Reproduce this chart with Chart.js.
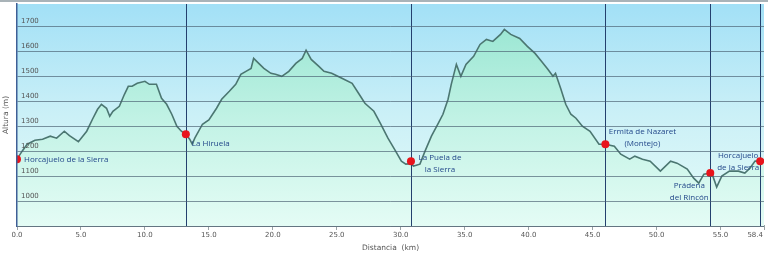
<!DOCTYPE html>
<html>
<head>
<meta charset="utf-8">
<script src="https://cdn.jsdelivr.net/npm/chart.js@4.4.1/dist/chart.umd.min.js"></script>
<style>
  html, body { margin: 0; padding: 0; background: #fff; }
  #wrap { width: 768px; height: 257px; }
</style>
</head>
<body>
<div id="wrap"><canvas id="perfil"></canvas></div>
<script>
let distKm = [0.0, 0.4, 0.8, 1.4, 2.0, 2.6, 3.1, 3.7, 4.1, 4.8, 5.45, 5.9, 6.3, 6.6, 7.0, 7.25, 7.5, 8.0, 8.4, 8.7,
  9.0, 9.4, 10.0, 10.35, 10.9, 11.3, 11.7, 12.1, 12.5, 12.85, 13.2, 13.5, 13.7, 13.9, 14.5, 15.0, 15.6, 16.0, 16.6, 17.1,
  17.5, 17.9, 18.3, 18.5, 18.9, 19.3, 19.85, 20.2, 20.7, 21.25, 21.8, 22.3, 22.6, 23.0, 23.6, 24.0, 24.6, 25.4, 26.2, 26.7,
  27.2, 27.9, 28.4, 29.0, 29.6, 30.05, 30.4, 30.8, 31.0, 31.5, 31.9, 32.4, 32.9, 33.3, 33.7, 33.95, 34.35, 34.7, 35.1, 35.7,
  36.2, 36.7, 37.2, 37.8, 38.1, 38.6, 39.3, 39.9, 40.5, 41.0, 41.5, 41.9, 42.1, 42.5, 42.9, 43.3, 43.7, 44.2, 44.8, 45.5,
  46.0, 46.7, 47.2, 47.9, 48.3, 48.9, 49.5, 50.3, 51.1, 51.6, 52.4, 52.9, 53.3, 53.7, 54.2, 54.35, 54.7, 55.1, 55.7, 56.4,
  56.9, 57.3, 57.7, 58.1, 58.4]
let altitudeM = [1168, 1200, 1228, 1244, 1248, 1260, 1252, 1280, 1262, 1238, 1280, 1328, 1368, 1388, 1372, 1340, 1360, 1380, 1428, 1460,
  1460, 1472, 1480, 1468, 1468, 1412, 1388, 1348, 1300, 1280, 1268, 1248, 1228, 1252, 1308, 1325, 1372, 1408, 1440, 1468,
  1508, 1520, 1532, 1572, 1552, 1532, 1512, 1508, 1500, 1520, 1552, 1572, 1605, 1568, 1540, 1520, 1512, 1492, 1472, 1432,
  1392, 1360, 1312, 1252, 1200, 1160, 1148, 1150, 1140, 1148, 1200, 1260, 1308, 1348, 1408, 1468, 1548, 1500, 1548, 1580,
  1628, 1648, 1640, 1668, 1688, 1668, 1652, 1620, 1592, 1560, 1528, 1500, 1512, 1452, 1388, 1348, 1332, 1300, 1280, 1228,
  1228, 1220, 1188, 1168, 1180, 1168, 1160, 1120, 1160, 1152, 1128, 1092, 1072, 1108, 1112, 1108, 1056, 1100, 1120, 1120,
  1112, 1132, 1160, 1160, 1165]

// puntos de paso
let stopNames = [["Horcajuelo de la Sierra"], ["La Hiruela"], ["La Puela de", "la Sierra"],
  ["Ermita de Nazaret", "(Montejo)"], ["Prádena", "del Rincón"], ["Horcajuelo", "de la Sierra"]]
let stopKm = [0.0, 13.2, 30.8, 46.0, 54.2, 58.1]
let stopAlt = [1168, 1268, 1160, 1228, 1112, 1160]

let xTicks = [0, 5, 10, 15, 20, 25, 30, 35, 40, 45, 50, 55, 58.4]
let yTicks = [1000, 1100, 1200, 1300, 1400, 1500, 1600, 1700]

// desplazamiento de cada etiqueta respecto a su punto (px) y alineacion
let labelPos = [
  { dx: 7, dy: 1, align: "left" },
  { dx: 6, dy: 10, align: "left" },
  { dx: 29, dy: -3, align: "center" },
  { dx: 37, dy: -12, align: "center" },
  { dx: -21, dy: 13, align: "center" },
  { dx: -22, dy: -5, align: "center" }
]

let fondo = {
  id: "fondo",
  beforeDraw(chart) {
    let { ctx, chartArea: a } = chart
    let g = ctx.createLinearGradient(0, a.top, 0, a.bottom)
    g.addColorStop(0, "#a2e0f6")
    g.addColorStop(0.5, "#cbf0f7")
    g.addColorStop(1, "#e6fcf8")
    ctx.save()
    ctx.fillStyle = g
    ctx.fillRect(a.left, a.top, a.right - a.left, a.bottom - a.top)
    ctx.strokeStyle = "#a9b3b8"
    ctx.lineWidth = 2
    ctx.beginPath()
    ctx.moveTo(0, 1)
    ctx.lineTo(chart.width, 1)
    ctx.stroke()
    ctx.restore()
  },
  beforeDatasetDraw(chart, args) {
    if (args.index !== 0) return
    let { ctx, chartArea: a, scales } = chart
    ctx.save()
    ctx.strokeStyle = "#24406e"
    ctx.lineWidth = 1
    stopKm.forEach((km, i) => {
      if (i === 0) return
      let x = Math.round(scales.x.getPixelForValue(km)) + 0.5
      ctx.beginPath()
      ctx.moveTo(x, a.top)
      ctx.lineTo(x, a.bottom)
      ctx.stroke()
    })
    ctx.restore()
  },
  afterDraw(chart) {
    let { ctx, scales } = chart
    ctx.save()
    ctx.font = "8px 'Open Sans'"
    ctx.fillStyle = "#23488a"
    ctx.textBaseline = "middle"
    stopNames.forEach((lines, i) => {
      let px = scales.x.getPixelForValue(stopKm[i])
      let py = scales.y.getPixelForValue(stopAlt[i])
      let p = labelPos[i]
      ctx.textAlign = p.align
      lines.forEach((t, j) => ctx.fillText(t, px + p.dx, py + p.dy + j * 12))
    })
    // ultima marca del eje x alineada a la derecha
    ctx.font = "7px 'DejaVu Sans'"
    ctx.fillStyle = "#555"
    ctx.textAlign = "right"
    ctx.textBaseline = "top"
    let last = xTicks[xTicks.length - 1]
    ctx.fillText(last.toFixed(1), scales.x.getPixelForValue(last) - 1, scales.x.top + 6)
    ctx.restore()
  }
}

let ctx = document.querySelector("#perfil").getContext("2d")

let chart = new Chart(ctx, {
  type: "line",
  data: {
    datasets: [{
      type: "scatter",
      data: stopKm.map((x, i) => ({ x: x, y: stopAlt[i] })),
      backgroundColor: "#e8141c",
      borderWidth: 0,
      pointRadius: 4,
      order: 0
    }, {
      data: distKm.map((x, i) => ({ x: x, y: altitudeM[i] })),
      borderColor: "#4b7671",
      borderWidth: 1.6,
      pointRadius: 0,
      tension: 0,
      fill: "start",
      backgroundColor: (c) => {
        let a = c.chart.chartArea
        if (!a) return "#bff0e2"
        let g = c.chart.ctx.createLinearGradient(0, a.top, 0, a.bottom)
        g.addColorStop(0, "#92e4cf")
        g.addColorStop(0.55, "#c4f3e6")
        g.addColorStop(1, "#e4fcf5")
        return g
      },
      order: 1
    }]
  },
  options: {
    responsive: true,
    maintainAspectRatio: false,
    animation: false,
    layout: { padding: { top: 2, right: 1, left: 0, bottom: 0 } },
    plugins: {
      legend: { display: false },
      tooltip: { enabled: false }
    },
    scales: {
      x: {
        type: "linear",
        min: 0,
        max: 58.4,
        afterBuildTicks: (s) => { s.ticks = xTicks.map(v => ({ value: v })) },
        afterFit: (s) => { s.height = 31; s.paddingLeft = 0; s.paddingRight = 0 },
        ticks: {
          autoSkip: false,
          maxRotation: 0,
          padding: 1,
          color: "#555",
          font: { family: "DejaVu Sans", size: 7 },
          callback: (v) => v === 58.4 ? "" : v.toFixed(1)
        },
        grid: { drawOnChartArea: false, tickLength: 4, color: "#9aa3a6" },
        border: { color: "#9aa3a6", width: 2 },
        title: {
          display: true,
          text: "Distancia  (km)",
          color: "#555",
          font: { family: "DejaVu Sans", size: 7.5 },
          padding: { top: 0, bottom: 4 }
        }
      },
      y: {
        min: 900,
        max: 1790,
        afterBuildTicks: (s) => { s.ticks = [900].concat(yTicks).map(v => ({ value: v })) },
        afterFit: (s) => { s.width = 17; s.paddingTop = 0; s.paddingBottom = 0 },
        ticks: {
          z: 2,
          mirror: true,
          padding: 4,
          labelOffset: -5,
          color: "#555",
          font: { family: "DejaVu Sans", size: 7 },
          callback: (v) => v >= 1000 ? String(v) : ""
        },
        grid: { z: 1, color: "rgba(70,92,110,0.65)", lineWidth: 1, drawTicks: false },
        border: { z: 2, color: "#3e5f96", width: 1.5 },
        title: {
          display: true,
          text: "Altura (m)",
          color: "#555",
          font: { family: "DejaVu Sans", size: 7.5 },
          padding: { top: 2, bottom: 0 }
        }
      }
    }
  },
  plugins: [fondo]
})
</script>
</body>
</html>
